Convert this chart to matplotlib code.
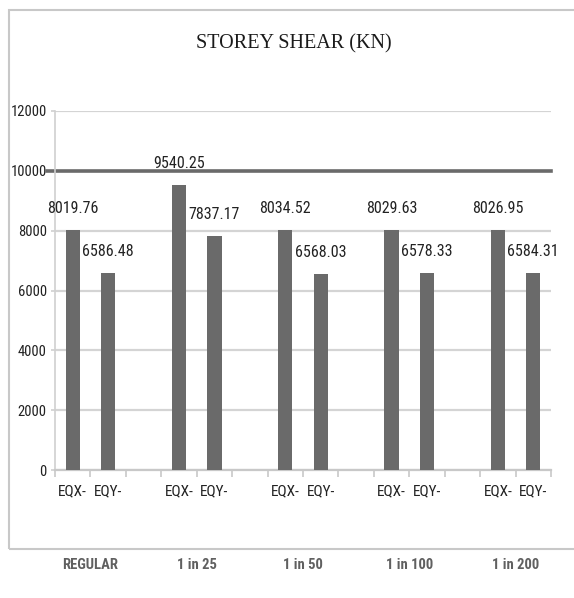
import os
import re
import matplotlib
matplotlib.use("Agg")
import matplotlib.pyplot as plt
from matplotlib.patches import Rectangle
from matplotlib import font_manager
from matplotlib.font_manager import FontProperties

# Storey shear for each building configuration, two load cases
groups = ["REGULAR", "1 in 25", "1 in 50", "1 in 100", "1 in 200"]
load_cases = ["EQX-", "EQY-"]
eqx = [8019.76, 9540.25, 8034.52, 8029.63, 8026.95]
eqy = [6586.48, 7837.17, 6568.03, 6578.33, 6584.31]
y_ticks = [0, 2000, 4000, 6000, 8000, 10000, 12000]


def find_font(stems, fallback_family, weight="normal"):
    """Return FontProperties for the first font file whose stem is listed."""
    files = {}
    for f in font_manager.fontManager.ttflist:
        key = re.sub(r"[^a-z0-9]", "", os.path.splitext(os.path.basename(f.fname))[0].lower())
        files.setdefault(key, f.fname)
    for s in stems:
        if s in files:
            return FontProperties(fname=files[s])
    return FontProperties(family=fallback_family, weight=weight)


narrow = find_font(["liberationsansnarrowregular", "liberationsansnarrow",
                    "robotocondensedregular", "notosanscondensed",
                    "opensanscondensedregular", "dejavusanscondensed",
                    "latoregular"], "Lato")
narrow_bold = find_font(["liberationsansnarrowbold", "robotocondensedbold",
                         "notosanscondensedbold", "opensanscondensedbold",
                         "dejavusanscondensedbold", "latobold"], "Lato", "bold")
serif = find_font(["notoserifcondensed", "liberationserifregular"], "Liberation Serif")


def sized(fp, size):
    p = fp.copy()
    p.set_size(size)
    return p


fig = plt.figure(figsize=(5.74, 5.98), dpi=100)
fig.patch.set_facecolor("white")

# outer chart frame
fig.add_artist(Rectangle((9 / 574, 1 - 549 / 598), 1.2, (549 - 10) / 598,
                         transform=fig.transFigure, fill=False,
                         edgecolor="#c8c8c8", linewidth=1.5))

ax = fig.add_axes([55 / 574, 1 - 470 / 598, (551 - 55) / 574, 359 / 598])

# slots: two bars per group, an empty slot between groups
positions = []
values = []
labels = []
for g in range(len(groups)):
    base = g * 3
    positions += [base, base + 1]
    values += [eqx[g], eqy[g]]
    labels += load_cases
n_slots = len(groups) * 3 - 1

ax.bar(positions, values, width=0.4, color="#6a6a6a", zorder=3)
for x, v in zip(positions, values):
    ax.annotate(f"{v:.2f}", (x, v), xytext=(0, 10), textcoords="offset points",
                ha="center", va="bottom", fontproperties=sized(narrow, 11.5),
                color="#222222")

ax.set_xlim(-0.5, n_slots - 0.5)
ax.set_ylim(0, 12000)
ax.set_yticks(y_ticks)
ax.set_yticklabels([str(t) for t in y_ticks], fontproperties=sized(narrow, 10.5),
                   color="#222222")
ax.set_xticks(positions)
ax.set_xticklabels(labels, fontproperties=sized(narrow, 11), color="#222222")
ax.set_xticks([i - 0.5 for i in range(n_slots + 1)], minor=True)
ax.tick_params(axis="x", which="major", length=0, pad=10)
ax.tick_params(axis="x", which="minor", length=5, color="#c8c8c8", width=1.2)
ax.tick_params(axis="y", length=3, color="#d0d0d0", width=1.2, pad=3)

ax.grid(axis="y", color="#d4d4d4", linewidth=1.6, zorder=0)
ax.axhline(10000, xmin=-0.016, xmax=1, color="#6a6a6a", linewidth=2.6,
           zorder=2, clip_on=False)
for side in ["top", "right"]:
    ax.spines[side].set_visible(False)
ax.spines["left"].set_color("#d0d0d0")
ax.spines["left"].set_linewidth(1.2)
ax.spines["bottom"].set_color("#c8c8c8")
ax.spines["bottom"].set_linewidth(1.6)

fig.text(294 / 574, 1 - 44 / 598, "STOREY SHEAR (KN)", ha="center", va="center",
         fontproperties=sized(serif, 14.5), color="#1a1a1a")

# group names under the frame
for g, name in enumerate(groups):
    xd = g * 3 + 0.5
    xf = ax.transData.transform((xd, 0))[0] / fig.bbox.width
    fig.text(xf, 1 - 565 / 598, name, ha="center", va="center",
             fontproperties=sized(narrow_bold, 10.5), color="#606060")

fig.savefig("out.png", dpi=100, facecolor="white")
